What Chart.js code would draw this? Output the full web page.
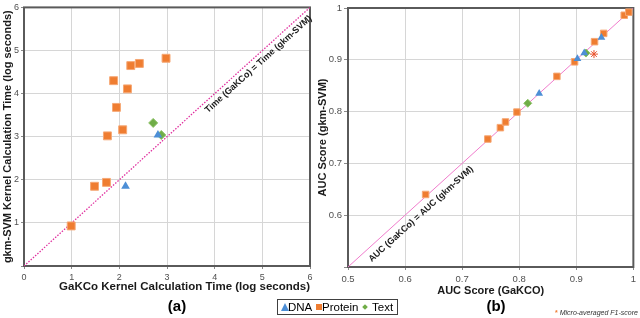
<!DOCTYPE html>
<html>
<head>
<meta charset="utf-8">
<script src="https://cdn.jsdelivr.net/npm/chart.js@4.4.1/dist/chart.umd.min.js"></script>
<style>
  body { margin: 0; background: #fff; width: 640px; height: 318px; position: relative; overflow: hidden;
         font-family: "Liberation Sans", Arial, sans-serif; color: #000; }
  canvas { position: absolute; top: 0; }
  #timeChart { left: 0; }
  #aucChart { left: 316px; }
  .caption { position: absolute; top: 297px; font-weight: bold; font-size: 15px; width: 40px; text-align: center; }
  #legend { position: absolute; left: 277px; top: 299px; width: 119px; height: 14px; border: 1px solid #404040;
            font-size: 11.5px; }
  #legend span { position: absolute; top: 0px; line-height: 14px; }
  .tri { width: 0; height: 0; border-left: 4px solid transparent; border-right: 4px solid transparent;
         border-bottom: 8px solid #4d8fd6; top: 3px !important; }
  .sq { width: 6px; height: 6px; background: #ef7d31; top: 4px !important; }
  .dm { width: 4px; height: 4px; background: #70ad47; transform: rotate(45deg); top: 5px !important; }
  #note { position: absolute; left: 555px; top: 309px; font-size: 7px; font-style: italic; color: #333; white-space: nowrap; }
  #note b { color: #f07c32; font-style: normal; }
</style>
</head>
<body>
<canvas id="timeChart" width="320" height="300"></canvas>
<canvas id="aucChart" width="324" height="300"></canvas>
<div class="caption" style="left:157px">(a)</div>
<div class="caption" style="left:476px">(b)</div>
<div id="legend">
  <span class="tri" style="left:3px"></span><span style="left:10px">DNA</span>
  <span class="sq" style="left:38px"></span><span style="left:44px">Protein</span>
  <span class="dm" style="left:85px"></span><span style="left:94px">Text</span>
</div>
<div id="note"><b>*</b> Micro-averaged F1-score</div>
<script>
// (a) kernel calculation time, log seconds
const timeDnaX = [2.13, 2.81];
const timeDnaY = [1.85, 3.04];
const timeProteinX = [2.98, 2.42, 2.24, 1.88, 2.17, 1.94, 2.07, 1.75, 1.48, 1.73, 0.99];
const timeProteinY = [4.82, 4.70, 4.65, 4.30, 4.11, 3.68, 3.16, 3.02, 1.85, 1.94, 0.93];
const timeTextX = [2.71, 2.88];
const timeTextY = [3.32, 3.04];
const timeTicks = [0, 1, 2, 3, 4, 5, 6];

// (b) AUC scores
const aucDnaX = [0.835, 0.902, 0.914, 0.944];
const aucDnaY = [0.835, 0.902, 0.913, 0.943];
const aucProteinX = [0.636, 0.745, 0.767, 0.776, 0.796, 0.866, 0.897, 0.932, 0.948, 0.984, 0.992];
const aucProteinY = [0.640, 0.747, 0.769, 0.780, 0.799, 0.868, 0.896, 0.935, 0.951, 0.986, 0.992];
const aucTextX = [0.815, 0.917];
const aucTextY = [0.816, 0.913];
const aucF1X = [0.931];
const aucF1Y = [0.911];
const aucTicks = [0.5, 0.6, 0.7, 0.8, 0.9, 1];

const FONT = '"Liberation Sans", Arial, sans-serif';
const pts = (xs, ys) => xs.map((x, i) => ({ x: x, y: ys[i] }));

const framePlugin = {
  id: 'frame',
  beforeDatasetsDraw(chart) {
    const { ctx, chartArea: a } = chart;
    ctx.save();
    ctx.strokeStyle = '#5a5a5a';
    ctx.lineWidth = 2;
    ctx.strokeRect(a.left, a.top, a.right - a.left, a.bottom - a.top);
    ctx.restore();
  }
};

const diagLabel = {
  id: 'diagLabel',
  afterDatasetsDraw(chart, args, o) {
    const { ctx, scales: { x, y } } = chart;
    const px = x.getPixelForValue(o.at[0]);
    const py = y.getPixelForValue(o.at[1]);
    const ang = Math.atan2(y.getPixelForValue(o.to) - y.getPixelForValue(o.from),
                           x.getPixelForValue(o.to) - x.getPixelForValue(o.from));
    ctx.save();
    ctx.translate(px, py);
    ctx.rotate(ang);
    ctx.font = 'bold 9px ' + FONT;
    ctx.fillStyle = '#1a1a1a';
    ctx.textAlign = 'center';
    ctx.textBaseline = 'middle';
    ctx.fillText(o.text, 0, 0);
    ctx.restore();
  }
};

function axis(min, max, ticks, title, opts) {
  return {
    type: 'linear', min: min, max: max,
    afterBuildTicks: s => { s.ticks = ticks.map(v => ({ value: v })); },
    afterFit: s => { if (opts.width) s.width = opts.width; if (opts.height) s.height = opts.height; },
    grid: { color: '#d6d6d6', lineWidth: 1, tickLength: opts.tick, tickColor: '#8a8a8a' },
    border: { display: false },
    ticks: { font: { family: FONT, size: opts.tickSize }, color: '#505050', padding: opts.pad,
             callback: v => (opts.hideMin && v === min) ? '' : v },
    title: { display: true, text: title, align: opts.align || 'center', color: '#1a1a1a',
             font: { family: FONT, size: opts.titleSize, weight: 'bold' }, padding: opts.titlePad }
  };
}

new Chart(document.getElementById('timeChart'), {
  type: 'scatter',
  data: {
    datasets: [
      { label: 'DNA', data: pts(timeDnaX, timeDnaY), pointStyle: 'triangle', pointRadius: 5,
        backgroundColor: '#4d8fd6', borderColor: '#4d8fd6', borderWidth: 0, order: 1 },
      { label: 'Protein', data: pts(timeProteinX, timeProteinY), pointStyle: 'rect', pointRadius: 5.6,
        backgroundColor: '#ef7d31', borderColor: '#f6a875', borderWidth: 1, order: 1 },
      { label: 'Text', data: pts(timeTextX, timeTextY), pointStyle: 'rectRot', pointRadius: 4.5,
        backgroundColor: '#70ad47', borderColor: '#8cc266', borderWidth: 1, order: 1 },
      { label: 'equal', data: pts([0, 6], [0, 6]), showLine: true, pointRadius: 0,
        borderColor: '#e0309f', borderWidth: 1.3, borderDash: [1.5, 1.5], order: 5 }
    ]
  },
  options: {
    responsive: false, animation: false,
    layout: { padding: { top: 5, right: 10, left: 0, bottom: 0 } },
    scales: {
      x: axis(0, 6, timeTicks, 'GaKCo Kernel Calculation Time (log seconds)',
              { height: 34, tick: 3, pad: 3, tickSize: 9, titleSize: 11.5, titlePad: { top: 0, bottom: 6 }, align: 'end' }),
      y: axis(0, 6, timeTicks, 'gkm-SVM Kernel Calculation Time (log seconds)',
              { width: 24, tick: 3, pad: 2, tickSize: 9, titleSize: 11, titlePad: { top: 1, bottom: 0 }, hideMin: true })
    },
    plugins: {
      legend: { display: false }, tooltip: { enabled: false },
      diagLabel: { text: 'Time (GaKCo) = Time (gkm-SVM)', at: [4.92, 4.68], from: 0, to: 6 }
    }
  },
  plugins: [framePlugin, diagLabel]
});

new Chart(document.getElementById('aucChart'), {
  type: 'scatter',
  data: {
    datasets: [
      { label: 'DNA', data: pts(aucDnaX, aucDnaY), pointStyle: 'triangle', pointRadius: 4.5,
        backgroundColor: '#4d8fd6', borderColor: '#4d8fd6', borderWidth: 0, order: 1 },
      { label: 'Protein', data: pts(aucProteinX, aucProteinY), pointStyle: 'rect', pointRadius: 4.6,
        backgroundColor: '#ef7d31', borderColor: '#f6a875', borderWidth: 1, order: 1 },
      { label: 'Text', data: pts(aucTextX, aucTextY), pointStyle: 'rectRot', pointRadius: 4,
        backgroundColor: '#70ad47', borderColor: '#8cc266', borderWidth: 1, order: 1 },
      { label: 'F1', data: pts(aucF1X, aucF1Y), pointStyle: 'star', pointRadius: 4,
        backgroundColor: '#e8502a', borderColor: '#e8502a', borderWidth: 1, order: 1 },
      { label: 'equal', data: pts([0.5, 1], [0.5, 1]), showLine: true, pointRadius: 0,
        borderColor: '#f07ccc', borderWidth: 1, order: 5 }
    ]
  },
  options: {
    responsive: false, animation: false,
    layout: { padding: { top: 8, right: 3, left: 0, bottom: 0 } },
    scales: {
      x: axis(0.5, 1, aucTicks, 'AUC Score (GaKCO)',
              { height: 33, tick: 3, pad: 4, tickSize: 9.5, titleSize: 11, titlePad: { top: 0, bottom: 2 } }),
      y: axis(0.5, 1, aucTicks, 'AUC Score (gkm-SVM)',
              { width: 32, tick: 4, pad: 2, tickSize: 9.5, titleSize: 11, titlePad: { top: 0, bottom: 0 }, hideMin: true })
    },
    plugins: {
      legend: { display: false }, tooltip: { enabled: false },
      diagLabel: { text: 'AUC (GaKCo) = AUC (gkm-SVM)', at: [0.628, 0.602], from: 0.5, to: 1 }
    }
  },
  plugins: [framePlugin, diagLabel]
});
</script>
</body>
</html>
